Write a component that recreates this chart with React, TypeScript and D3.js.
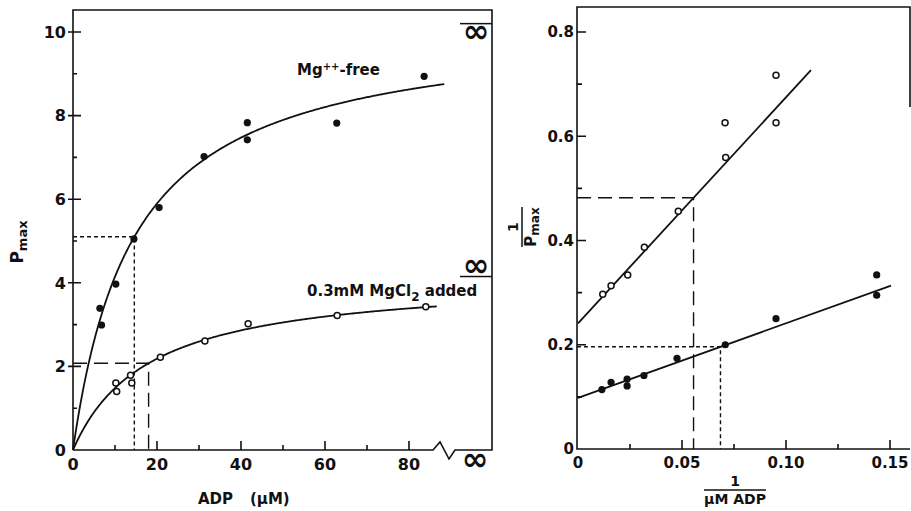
import React, { useEffect, useRef } from "react";
import * as d3 from "d3";

const W = 911;
const H = 511;

// left panel: Pmax against ADP (uM)
const adpMgFree = [6.4, 6.8, 10.2, 14.5, 20.5, 31.2, 41.5, 41.5, 62.8, 83.6];
const pmaxMgFree = [3.39, 2.99, 3.97, 5.05, 5.8, 7.02, 7.83, 7.42, 7.82, 8.94];
const adpMgCl2 = [10.2, 10.4, 13.7, 14.0, 20.8, 31.4, 41.7, 62.9, 84];
const pmaxMgCl2 = [1.6, 1.4, 1.79, 1.6, 2.22, 2.61, 3.02, 3.22, 3.43];

// right panel: double reciprocal
const invAdpMgFree = [0.0115, 0.0159, 0.0236, 0.0236, 0.0317, 0.0476, 0.0708, 0.0952, 0.1436, 0.1436];
const invPmaxMgFree = [0.114, 0.128, 0.134, 0.121, 0.141, 0.174, 0.2, 0.25, 0.334, 0.295];
const invAdpMgCl2 = [0.0119, 0.0159, 0.0239, 0.0319, 0.0482, 0.071, 0.0707, 0.0952, 0.0952];
const invPmaxMgCl2 = [0.297, 0.313, 0.334, 0.387, 0.456, 0.559, 0.626, 0.626, 0.717];

// fitted Michaelis-Menten constants
const vmaxMgFree = 10.2;
const kmMgFree = 14.6;
const vmaxMgCl2 = 4.15;
const kmMgCl2 = 18;
const curveEnd = [88.4, 86.6];
const lineEnd = [0.1505, 0.112];

const leftXTicks = [0, 20, 40, 60, 80];
const leftXMinor = [10, 30, 50, 70];
const leftYTicks = [0, 2, 4, 6, 8, 10];
const leftYMinor = [1, 3, 5, 7, 9];
const rightXTicks = [0, 0.05, 0.1, 0.15];
const rightXLabels = ["0", "0.05", "0.10", "0.15"];
const rightXMinor = [0.025, 0.075, 0.125];
const rightYTicks = [0, 0.2, 0.4, 0.6, 0.8];
const rightYLabels = ["0", "0.2", "0.4", "0.6", "0.8"];
const rightYMinor = [0.1, 0.3, 0.5, 0.7];

const ink = "#111";
const font = "'DejaVu Sans', sans-serif";

const App = () => {
  const ref = useRef(null);

  useEffect(() => {
    const svg = d3.select(ref.current);
    svg.selectAll("*").remove();

    const xL = d3.scaleLinear().domain([0, 80]).range([73, 409]);
    const yL = d3.scaleLinear().domain([0, 10]).range([450, 32]);
    const xR = d3.scaleLinear().domain([0, 0.15]).range([578, 890]);
    const yR = d3.scaleLinear().domain([0, 0.8]).range([449, 32]);

    const stroke = (sel, w = 1.6) =>
      sel.attr("fill", "none").attr("stroke", ink).attr("stroke-width", w);

    const label = (sel, fs = 15) =>
      sel
        .attr("font-family", font)
        .attr("font-size", fs)
        .attr("font-weight", "bold")
        .attr("fill", ink);

    // tick marks drawn as one path per set
    const yTicks = (g, scale, x0, values, inner, outer) => {
      const p = d3.path();
      values.forEach((v) => {
        p.moveTo(x0 - outer, scale(v));
        p.lineTo(x0 + inner, scale(v));
      });
      stroke(g.append("path"), 1.6).attr("d", p.toString());
    };
    const xTicks = (g, scale, y0, values, inner) => {
      const p = d3.path();
      values.forEach((v) => {
        p.moveTo(scale(v), y0);
        p.lineTo(scale(v), y0 - inner);
      });
      stroke(g.append("path"), 1.6).attr("d", p.toString());
    };
    const yLabels = (g, scale, x0, values, labels, fs) =>
      g
        .append("g")
        .selectAll("text")
        .data(values)
        .join("text")
        .call(label, fs)
        .attr("x", x0)
        .attr("y", (d) => scale(d))
        .attr("dy", "0.36em")
        .attr("text-anchor", "end")
        .text((d, i) => labels[i]);
    const xLabels = (g, scale, y0, values, labels, fs) =>
      g
        .append("g")
        .selectAll("text")
        .data(values)
        .join("text")
        .call(label, fs)
        .attr("x", (d) => scale(d))
        .attr("y", y0)
        .attr("text-anchor", "middle")
        .text((d, i) => labels[i]);

    // ---------- left panel ----------
    const left = svg.append("g");
    const fl = xL(0), fb = yL(0), fr = 492, ft = 10;
    const brk = 433;
    stroke(left.append("path")).attr(
      "d",
      `M${fl},${fb} V${ft} H${fr} V${fb} H${brk + 22} L${brk + 16},${fb + 9} L${brk + 7},${fb - 8} L${brk},${fb} H${fl}`
    );

    yTicks(left, yL, fl, leftYTicks.slice(1), 8, 5);
    yTicks(left, yL, fl, leftYMinor, 4, 0);
    xTicks(left, xL, fb, leftXTicks.slice(1), 9);
    xTicks(left, xL, fb, leftXMinor, 5);
    yLabels(left, yL, fl - 7, leftYTicks, leftYTicks.map(String), 16);
    xLabels(left, xL, fb + 20, leftXTicks, leftXTicks.map(String), 16);

    // guide lines
    stroke(left.append("path"), 1.4)
      .attr("stroke-dasharray", "4,3")
      .attr("d", `M${fl},${yL(vmaxMgFree / 2)} H${xL(kmMgFree)} V${fb}`);
    stroke(left.append("path"), 1.4)
      .attr("stroke-dasharray", "14,7")
      .attr("d", `M${fl},${yL(vmaxMgCl2 / 2)} H${xL(kmMgCl2)} V${fb}`);

    // fitted curves
    const mm = (vmax, km, end) =>
      d3.range(0, end, 0.25).concat([end]).map((s) => [s, (vmax * s) / (km + s)]);
    const lineL = d3.line().x((d) => xL(d[0])).y((d) => yL(d[1]));
    stroke(left.append("path"), 1.8).attr("d", lineL(mm(vmaxMgFree, kmMgFree, curveEnd[0])));
    stroke(left.append("path"), 1.8).attr("d", lineL(mm(vmaxMgCl2, kmMgCl2, curveEnd[1])));

    left
      .append("g")
      .selectAll("circle")
      .data(adpMgFree)
      .join("circle")
      .attr("cx", (d) => xL(d))
      .attr("cy", (d, i) => yL(pmaxMgFree[i]))
      .attr("r", 3.6)
      .attr("fill", ink);
    left
      .append("g")
      .selectAll("circle")
      .data(adpMgCl2)
      .join("circle")
      .attr("cx", (d) => xL(d))
      .attr("cy", (d, i) => yL(pmaxMgCl2[i]))
      .attr("r", 3)
      .attr("fill", "#fff")
      .attr("stroke", ink)
      .attr("stroke-width", 1.5);

    // infinity markers on the right edge
    const inf = (cx, cy) =>
      left
        .append("text")
        .call(label, 32)
        .attr("x", cx)
        .attr("y", cy + 9)
        .attr("text-anchor", "middle")
        .text("∞");
    stroke(left.append("line"), 1.5)
      .attr("x1", 460).attr("x2", fr).attr("y1", yL(vmaxMgFree)).attr("y2", yL(vmaxMgFree));
    inf(476, yL(vmaxMgFree) + 9);
    stroke(left.append("line"), 1.5)
      .attr("x1", 460).attr("x2", fr).attr("y1", yL(vmaxMgCl2)).attr("y2", yL(vmaxMgCl2));
    inf(476, yL(vmaxMgCl2) - 10);
    inf(475, fb + 11);

    // labels
    const t1 = left.append("text").call(label, 15).attr("x", 297).attr("y", 75);
    t1.append("tspan").text("Mg");
    t1.append("tspan").attr("dy", -5).attr("font-size", 10).text("++");
    t1.append("tspan").attr("dy", 5).text("-free");

    const t2 = left.append("text").call(label, 15).attr("x", 307).attr("y", 296);
    t2.append("tspan").text("0.3mM MgCl");
    t2.append("tspan").attr("dy", 5).attr("font-size", 12).text("2");
    t2.append("tspan").attr("dy", -5).text(" added");

    const yt = left
      .append("text")
      .call(label, 17)
      .attr("transform", "translate(23,242) rotate(-90)")
      .attr("text-anchor", "middle");
    yt.append("tspan").text("P");
    yt.append("tspan").attr("dy", 4).attr("font-size", 13).text("max");

    left.append("text").call(label, 15).attr("x", 198).attr("y", 504).text("ADP");
    left.append("text").call(label, 15).attr("x", 250).attr("y", 504).text("(μM)");

    // ---------- right panel ----------
    const right = svg.append("g");
    const rl = xR(0) - 1, rb = yR(0), rt = 7, rr = 910;
    stroke(right.append("path")).attr("d", `M${rr},107 V${rt} H${rl} V${rb} H${rr}`);

    yTicks(right, yR, rl, rightYTicks.slice(1), 9, 0);
    yTicks(right, yR, rl, rightYMinor, 5, 0);
    xTicks(right, xR, rb, rightXTicks.slice(1), 9);
    xTicks(right, xR, rb, rightXMinor, 5);
    yLabels(right, yR, rl - 3, rightYTicks, rightYLabels, 15);
    xLabels(right, xR, rb + 19, rightXTicks, rightXLabels, 15);

    stroke(right.append("path"), 1.4)
      .attr("stroke-dasharray", "14,7")
      .attr("d", `M${rl},${yR(2 / vmaxMgCl2)} H${xR(1 / kmMgCl2)} V${rb}`);
    stroke(right.append("path"), 1.4)
      .attr("stroke-dasharray", "4,3")
      .attr("d", `M${rl},${yR(2 / vmaxMgFree)} H${xR(1 / kmMgFree)} V${rb}`);

    const lineR = d3.line().x((d) => xR(d[0])).y((d) => yR(d[1]));
    const lb = (vmax, km, end) => [
      [0, 1 / vmax],
      [end, 1 / vmax + (km / vmax) * end],
    ];
    stroke(right.append("path"), 1.8).attr("d", lineR(lb(vmaxMgFree, kmMgFree, lineEnd[0])));
    stroke(right.append("path"), 1.8).attr("d", lineR(lb(vmaxMgCl2, kmMgCl2, lineEnd[1])));

    right
      .append("g")
      .selectAll("circle")
      .data(invAdpMgFree)
      .join("circle")
      .attr("cx", (d) => xR(d))
      .attr("cy", (d, i) => yR(invPmaxMgFree[i]))
      .attr("r", 3.6)
      .attr("fill", ink);
    right
      .append("g")
      .selectAll("circle")
      .data(invAdpMgCl2)
      .join("circle")
      .attr("cx", (d) => xR(d))
      .attr("cy", (d, i) => yR(invPmaxMgCl2[i]))
      .attr("r", 3)
      .attr("fill", "#fff")
      .attr("stroke", ink)
      .attr("stroke-width", 1.5);

    // y label: 1 / Pmax (rotated fraction)
    const yl = right.append("g").attr("transform", "translate(522,227) rotate(-90)");
    yl.append("text").call(label, 14).attr("y", -4).attr("text-anchor", "middle").text("1");
    stroke(yl.append("line"), 1.5).attr("x1", -20).attr("x2", 20).attr("y1", 0).attr("y2", 0);
    const ylb = yl.append("text").call(label, 15).attr("y", 14).attr("text-anchor", "middle");
    ylb.append("tspan").text("P");
    ylb.append("tspan").attr("dy", 3).attr("font-size", 12).text("max");

    // x label: 1 / uM ADP
    const xl = right.append("g").attr("transform", "translate(735,490)");
    xl.append("text").call(label, 14).attr("y", -4).attr("text-anchor", "middle").text("1");
    stroke(xl.append("line"), 1.5).attr("x1", -31).attr("x2", 31).attr("y1", 0).attr("y2", 0);
    xl.append("text").call(label, 14).attr("y", 14).attr("text-anchor", "middle").text("μM ADP");
  }, []);

  return (
    <svg
      ref={ref}
      width={W}
      height={H}
      style={{ position: "absolute", left: 0, top: 0, background: "#fff" }}
    />
  );
};

export default App;
